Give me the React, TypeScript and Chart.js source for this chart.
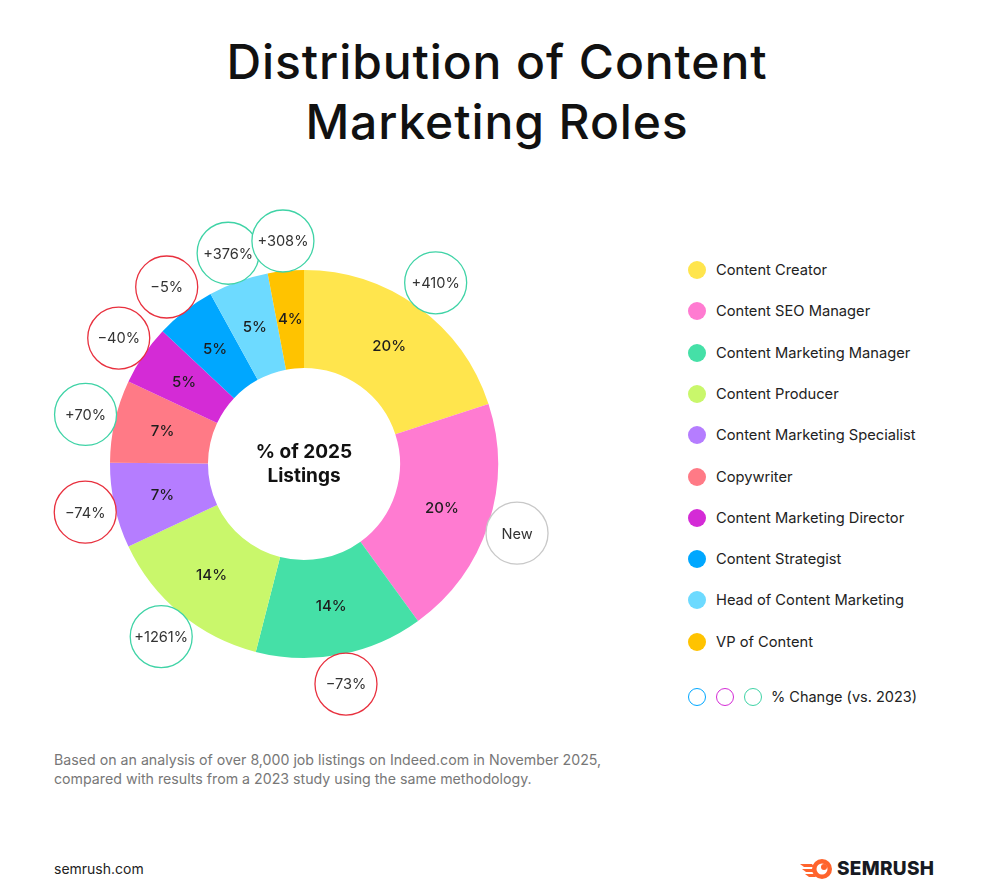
import React, { useEffect, useRef } from "react";
import { Chart, registerables } from "chart.js";

Chart.register(...registerables);

const categories = [
  "Content Creator",
  "Content SEO Manager",
  "Content Marketing Manager",
  "Content Producer",
  "Content Marketing Specialist",
  "Copywriter",
  "Content Marketing Director",
  "Content Strategist",
  "Head of Content Marketing",
  "VP of Content",
];
// slice sizes as measured from the arc angles
const shares = [20, 20, 14, 14, 7.1, 6.9, 5, 5, 5, 3];
// printed (rounded) share labels
const shareLabels = ["20%", "20%", "14%", "14%", "7%", "7%", "5%", "5%", "5%", "4%"];
const changeLabels = ["+410%", "New", "−73%", "+1261%", "−74%", "+70%", "−40%", "−5%", "+376%", "+308%"];
const changeKind = ["up", "new", "down", "up", "down", "up", "down", "down", "up", "up"];
const sliceColors = [
  "#FFE54D",
  "#FF7BD1",
  "#45E0A7",
  "#C9F76B",
  "#B57DFF",
  "#FF7A86",
  "#D42BD6",
  "#00A7FF",
  "#6DDAFF",
  "#FFC300",
];
const kindColors: Record<string, string> = { up: "#3FD3A6", down: "#E8303E", new: "#C8C8C8" };

const FONT = "Inter, 'Noto Sans', sans-serif";

const overlayPlugin = {
  id: "overlay",
  afterDatasetsDraw(chart: any) {
    const ctx = chart.ctx as CanvasRenderingContext2D;
    const meta = chart.getDatasetMeta(0);
    ctx.save();
    ctx.textAlign = "center";
    ctx.textBaseline = "middle";
    let cx = 0, cy = 0;
    meta.data.forEach((arc: any, i: number) => {
      const p = arc.getProps(["x", "y", "startAngle", "endAngle", "innerRadius", "outerRadius"], true);
      cx = p.x; cy = p.y;
      const mid = (p.startAngle + p.endAngle) / 2;
      const rm = (p.innerRadius + p.outerRadius) / 2;
      ctx.fillStyle = "#1d1d1d";
      ctx.font = `500 15px ${FONT}`;
      ctx.fillText(shareLabels[i], p.x + Math.cos(mid) * rm, p.y + Math.sin(mid) * rm);
      const br = 31;
      const d = p.outerRadius + br - 1;
      const bx = p.x + Math.cos(mid) * d;
      const by = p.y + Math.sin(mid) * d;
      ctx.beginPath();
      ctx.arc(bx, by, br, 0, Math.PI * 2);
      ctx.fillStyle = "#ffffff";
      ctx.fill();
      ctx.lineWidth = 1.3;
      ctx.strokeStyle = kindColors[changeKind[i]];
      ctx.stroke();
      ctx.fillStyle = "#333";
      ctx.font = `400 14.6px ${FONT}`;
      ctx.fillText(changeLabels[i], bx, by + 1);
    });
    ctx.fillStyle = "#111";
    ctx.font = `700 19px ${FONT}`;
    ctx.fillText("% of 2025", cx, cy - 12);
    ctx.fillText("Listings", cx, cy + 12);
    ctx.restore();
  },
};

function Doughnut() {
  const ref = useRef<HTMLCanvasElement>(null);
  useEffect(() => {
    if (!ref.current) return;
    const chart = new Chart(ref.current, {
      type: "doughnut",
      data: {
        labels: categories,
        datasets: [
          {
            data: shares,
            backgroundColor: sliceColors,
            borderWidth: 0,
            hoverOffset: 0,
          },
        ],
      },
      options: {
        animation: false,
        responsive: false,
        maintainAspectRatio: false,
        cutout: "49.5%",
        layout: { padding: 70 },
        plugins: { legend: { display: false }, tooltip: { enabled: false } },
        events: [],
      },
      plugins: [overlayPlugin],
    });
    return () => chart.destroy();
  }, []);
  return (
    <canvas
      ref={ref}
      width={528}
      height={528}
      style={{ position: "absolute", left: 40, top: 200, width: 528, height: 528 }}
    />
  );
}

function Logo() {
  return (
    <div style={{ position: "absolute", left: 800, top: 857, display: "flex", alignItems: "center" }}>
      <svg width="34" height="22" viewBox="0 0 34 22">
        <path d="M0 6 L12 6 L14 9 L4 9 Z" fill="#FF642D" />
        <path d="M2 11 L13 11 L13 14 L6 14 Z" fill="#FF642D" />
        <path d="M5 16 L14 16 L16 19 L9 19 Z" fill="#FF642D" />
        <circle cx="22" cy="11" r="10" fill="#FF642D" />
        <circle cx="22" cy="11" r="5.5" fill="#fff" />
        <circle cx="24" cy="9" r="3" fill="#FF642D" />
      </svg>
      <span style={{ fontFamily: FONT, fontWeight: 800, fontSize: 19, color: "#171A22", marginLeft: 3, letterSpacing: 0.3 }}>
        SEMRUSH
      </span>
    </div>
  );
}

export default function App() {
  return (
    <div
      style={{
        position: "absolute",
        left: 0,
        top: 0,
        width: 989,
        height: 883,
        background: "#fff",
        fontFamily: FONT,
        overflow: "hidden",
      }}
    >
      <div
        style={{
          position: "absolute",
          left: 0,
          top: 32,
          width: 994,
          textAlign: "center",
          fontSize: 48,
          fontWeight: 500,
          lineHeight: "60px",
          color: "#111",
          letterSpacing: 0.9,
        }}
      >
        Distribution of Content
        <br />
        Marketing Roles
      </div>
      <Doughnut />
      <div style={{ position: "absolute", left: 688, top: 260 }}>
        {categories.map((c, i) => (
          <div key={c} style={{ position: "absolute", top: i * 41.3, left: 0, display: "flex", alignItems: "center", whiteSpace: "nowrap" }}>
            <span style={{ width: 18, height: 18, borderRadius: 9, background: sliceColors[i], display: "inline-block" }} />
            <span style={{ marginLeft: 10, fontSize: 14.7, color: "#222", lineHeight: "20px" }}>{c}</span>
          </div>
        ))}
        <div style={{ position: "absolute", top: 427, left: 0, display: "flex", alignItems: "center", whiteSpace: "nowrap" }}>
          {["#00A7FF", "#D42BD6", "#3FD3A6"].map((col) => (
            <span key={col} style={{ width: 16, height: 16, borderRadius: 9, border: `1.3px solid ${col}`, display: "inline-block", marginRight: 10 }} />
          ))}
          <span style={{ fontSize: 14.5, color: "#222", lineHeight: "20px", marginLeft: -1 }}>% Change (vs. 2023)</span>
        </div>
      </div>
      <div style={{ position: "absolute", left: 54, top: 750, fontSize: 14.2, color: "#777", lineHeight: "19px" }}>
        Based on an analysis of over 8,000 job listings on Indeed.com in November 2025,
        <br />
        compared with results from a 2023 study using the same methodology.
      </div>
      <div style={{ position: "absolute", left: 54, top: 859, fontSize: 14, color: "#222", lineHeight: "20px" }}>semrush.com</div>
      <Logo />
    </div>
  );
}
